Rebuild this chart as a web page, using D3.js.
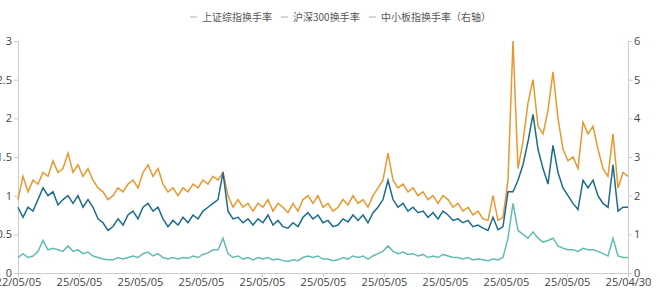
<!DOCTYPE html>
<html>
<head>
<meta charset="utf-8">
<script src="https://cdn.jsdelivr.net/npm/d3@7"></script>
<style>
  body { margin: 0; background: #fff; }
  text { font-family: "Noto Sans CJK SC", "Open Sans", sans-serif; }
</style>
</head>
<body>
<div id="chart"></div>
<script>
// series names
const seriesNames = ["上证综指换手率", "沪深300换手率", "中小板指换手率（右轴）"];

// x tick labels (as shown on the source chart)
const xTickLabels = ["22/05/05", "25/05/05", "25/05/05", "25/05/05", "25/05/05",
    "25/05/05", "25/05/05", "25/05/05", "25/05/05", "25/05/05", "25/04/30"];

// 上证综指换手率 (left axis, %)
const shTurnover = [
    0.85, 0.72, 0.85, 0.80, 0.95, 1.10, 1.00, 1.05, 0.88, 0.95,
    1.00, 0.90, 1.00, 0.85, 0.95, 0.85, 0.70, 0.65, 0.55, 0.60,
    0.70, 0.62, 0.75, 0.80, 0.70, 0.85, 0.90, 0.80, 0.85, 0.70,
    0.60, 0.68, 0.62, 0.72, 0.65, 0.75, 0.70, 0.80, 0.85, 0.90,
    0.95, 1.30, 0.80, 0.70, 0.72, 0.65, 0.70, 0.62, 0.70, 0.65,
    0.75, 0.62, 0.68, 0.60, 0.58, 0.65, 0.60, 0.72, 0.78, 0.70,
    0.75, 0.65, 0.68, 0.60, 0.62, 0.70, 0.66, 0.75, 0.68, 0.75,
    0.65, 0.78, 0.85, 0.95, 1.20, 0.95, 0.85, 0.90, 0.80, 0.85,
    0.78, 0.80, 0.72, 0.78, 0.70, 0.80, 0.75, 0.68, 0.70, 0.65,
    0.68, 0.60, 0.62, 0.58, 0.55, 0.72, 0.56, 0.60, 1.05, 1.05,
    1.20, 1.40, 1.70, 2.05, 1.60, 1.35, 1.15, 1.65, 1.30, 1.10,
    1.00, 0.90, 0.82, 1.20, 1.10, 1.20, 1.00, 0.90, 0.85, 1.40,
    0.80, 0.85, 0.85
];

// 沪深300换手率 (left axis, %)
const hs300Turnover = [
    0.20, 0.25, 0.20, 0.22, 0.28, 0.42, 0.30, 0.32, 0.30, 0.28,
    0.35, 0.28, 0.30, 0.25, 0.27, 0.22, 0.20, 0.18, 0.17, 0.17,
    0.20, 0.18, 0.20, 0.22, 0.20, 0.25, 0.27, 0.22, 0.25, 0.20,
    0.18, 0.20, 0.18, 0.20, 0.19, 0.22, 0.20, 0.24, 0.26, 0.30,
    0.30, 0.45, 0.25, 0.20, 0.22, 0.18, 0.20, 0.17, 0.20, 0.18,
    0.20, 0.17, 0.18, 0.16, 0.15, 0.17, 0.16, 0.20, 0.22, 0.20,
    0.22, 0.18, 0.18, 0.16, 0.17, 0.20, 0.18, 0.22, 0.20, 0.22,
    0.18, 0.22, 0.25, 0.28, 0.35, 0.28, 0.25, 0.27, 0.24, 0.25,
    0.22, 0.24, 0.20, 0.22, 0.20, 0.24, 0.22, 0.20, 0.20, 0.18,
    0.20, 0.17, 0.18, 0.17, 0.16, 0.18, 0.17, 0.20, 0.45, 0.90,
    0.55, 0.50, 0.45, 0.53, 0.45, 0.40, 0.42, 0.45, 0.35, 0.32,
    0.30, 0.30, 0.28, 0.32, 0.30, 0.30, 0.28, 0.25, 0.22, 0.45,
    0.22, 0.20, 0.20
];

// 中小板指换手率 (right axis, %)
const smeTurnover = [
    1.90, 2.50, 2.10, 2.40, 2.30, 2.60, 2.50, 2.90, 2.60, 2.70,
    3.10, 2.60, 2.80, 2.50, 2.70, 2.40, 2.20, 2.10, 1.90, 2.00,
    2.20, 2.10, 2.30, 2.40, 2.20, 2.60, 2.80, 2.50, 2.70, 2.30,
    2.10, 2.20, 2.00, 2.20, 2.10, 2.30, 2.20, 2.40, 2.30, 2.50,
    2.40, 2.60, 2.00, 1.70, 1.90, 1.70, 1.80, 1.60, 1.80, 1.70,
    1.90, 1.60, 1.80, 1.70, 1.56, 1.80, 1.60, 1.90, 2.00, 1.80,
    2.00, 1.70, 1.80, 1.60, 1.70, 1.90, 1.76, 2.00, 1.80, 1.90,
    1.70, 2.00, 2.20, 2.40, 3.10, 2.40, 2.20, 2.30, 2.10, 2.20,
    2.00, 2.10, 1.90, 2.00, 1.80, 2.00, 1.90, 1.70, 1.80, 1.60,
    1.70, 1.50, 1.60, 1.40, 1.36, 2.00, 1.36, 1.44, 2.40, 6.00,
    2.70, 3.40, 4.40, 5.00, 3.80, 3.60, 4.20, 5.20, 4.00, 3.20,
    2.90, 3.00, 2.70, 3.90, 3.60, 3.80, 3.20, 2.70, 2.50, 3.60,
    2.20, 2.60, 2.50
];

const width = 660, height = 289;
const margin = { top: 41, right: 32, bottom: 16, left: 18 };
const innerW = width - margin.left - margin.right;
const innerH = height - margin.top - margin.bottom;

const colors = ["#1d6b8c", "#63bcb4", "#e9982e"];

const svg = d3.select("#chart")
    .append("svg")
    .attr("width", width)
    .attr("height", height);

const g = svg.append("g")
    .attr("transform", `translate(${margin.left},${margin.top})`);

const n = shTurnover.length;
const x = d3.scaleLinear().domain([0, n - 1]).range([0, innerW]);
const xTick = d3.scaleLinear().domain([0, xTickLabels.length - 1]).range([0, innerW]);
const yLeft = d3.scaleLinear().domain([0, 3]).range([innerH, 0]);
const yRight = d3.scaleLinear().domain([0, 6]).range([innerH, 0]);

// axes
const axisColor = "#cccccc";
const labelColor = "#444";

const leftAxis = g.append("g")
    .call(d3.axisLeft(yLeft).tickValues([0, 0.5, 1, 1.5, 2, 2.5, 3]).tickSize(4).tickPadding(2)
        .tickFormat(d => d3.format("~g")(d)));
const rightAxis = g.append("g")
    .attr("transform", `translate(${innerW},0)`)
    .call(d3.axisRight(yRight).ticks(6).tickSize(4).tickPadding(2));
const bottomAxis = g.append("g")
    .attr("transform", `translate(0,${innerH})`)
    .call(d3.axisBottom(xTick).tickValues(d3.range(xTickLabels.length)).tickSize(4).tickPadding(1)
        .tickFormat(i => xTickLabels[i]));

[leftAxis, rightAxis, bottomAxis].forEach(a => {
    a.selectAll("path, line").attr("stroke", axisColor);
    a.selectAll("text").attr("fill", labelColor).style("font-size", "11px")
        .style("font-family", "'Open Sans', sans-serif");
});

// lines
const lineLeft = d3.line().x((d, i) => x(i)).y(d => yLeft(d));
const lineRight = d3.line().x((d, i) => x(i)).y(d => yRight(d));

g.append("path").datum(hs300Turnover)
    .attr("d", lineLeft).attr("fill", "none")
    .attr("stroke", colors[1]).attr("stroke-width", 1.5);
g.append("path").datum(smeTurnover)
    .attr("d", lineRight).attr("fill", "none")
    .attr("stroke", colors[2]).attr("stroke-width", 1.5);
g.append("path").datum(shTurnover)
    .attr("d", lineLeft).attr("fill", "none")
    .attr("stroke", colors[0]).attr("stroke-width", 1.5);

// legend (grey dashes as in the source)
const legendX = [190, 281, 369];
const legend = svg.append("g").attr("transform", "translate(0,17)");
seriesNames.forEach((name, i) => {
    const item = legend.append("g").attr("transform", `translate(${legendX[i]},0)`);
    item.append("line")
        .attr("x1", 0).attr("x2", 7).attr("y1", 0).attr("y2", 0)
        .attr("stroke", "#bbb").attr("stroke-width", 1.2);
    item.append("text")
        .attr("x", 12).attr("y", 0).attr("dy", "0.35em")
        .attr("fill", "#555").style("font-size", "10px")
        .text(name);
});
</script>
</body>
</html>
